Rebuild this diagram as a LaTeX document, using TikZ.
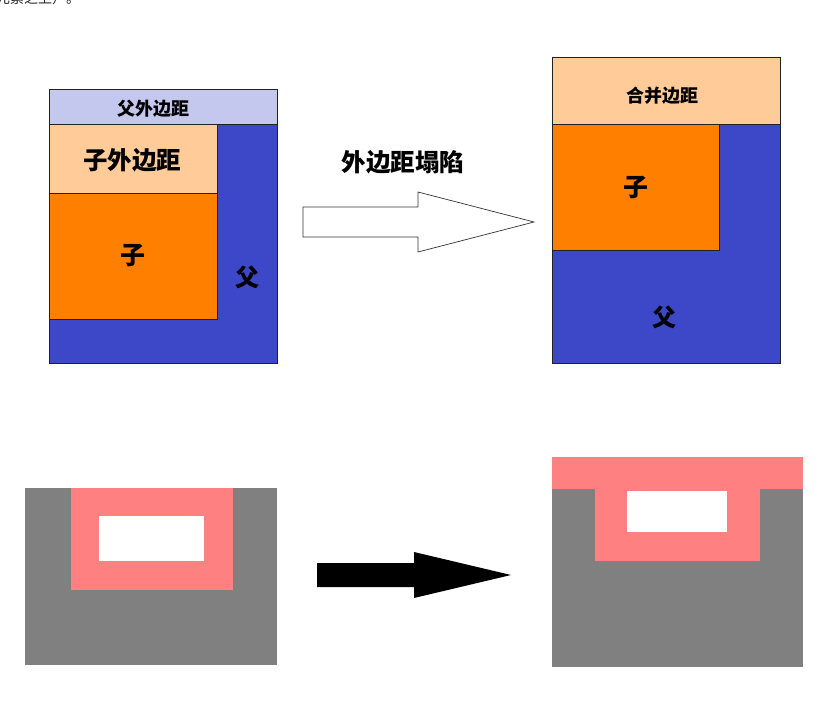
\documentclass[tikz,border=0pt]{standalone}
\usepackage{fontspec}
\newfontfamily\cjk{Noto Sans CJK SC}
\definecolor{pmargin}{HTML}{C5C8EE}
\definecolor{cmargin}{HTML}{FFCC99}
\definecolor{childc}{HTML}{FF8000}
\definecolor{parentc}{HTML}{3D48C9}
\definecolor{graybox}{HTML}{808080}
\definecolor{pinkbox}{HTML}{FF8080}
\definecolor{edge}{HTML}{222222}
\begin{document}
\begin{tikzpicture}[x=1pt,y=-1pt,
  boxe/.style={draw=edge,line width=0.8pt},
  lbl/.style={font=\cjk\bfseries\fontsize{#1}{#1}\selectfont,inner sep=0pt,text=black},
  flat/.style={draw=none}]
\useasboundingbox (0,0) rectangle (835,715);
% clipped top text
\node[anchor=base west,inner sep=0pt,font=\cjk\fontsize{14}{14}\selectfont,text=black!85] (toptext) at (-4,3) {元素之上）。};
% ---------- top left ----------
\path[fill=parentc,boxe] (49,124) rectangle (277,363);
\node[fill=pmargin,boxe,minimum width=228pt,minimum height=35pt,inner sep=0pt,anchor=north west] (pm) at (49,89) {};
\node[lbl=18] (pmlabel) at (153,109) {父外边距};
\node[fill=cmargin,boxe,minimum width=168pt,minimum height=69pt,inner sep=0pt,anchor=north west] (cm) at (49,124) {};
\node[lbl=24.5] (cmlabel) at (132,160) {子外边距};
\node[fill=childc,boxe,minimum width=168pt,minimum height=126pt,inner sep=0pt,anchor=north west] (child1) at (49,193) {};
\node[lbl=25] (c1label) at (133,256) {子};
\node[lbl=24] (p1label) at (247,277) {父};
% ---------- hollow arrow ----------
\draw[draw=black!80,fill=white,line width=0.7pt] (303,207) -- (418,207) -- (418,192) -- (534,222) -- (418,252) -- (418,237) -- (303,237) -- cycle;
\node[lbl=24.5] (collapse) at (403,162) {外边距塌陷};
% ---------- top right ----------
\path[fill=parentc,boxe] (552,124) rectangle (780,363);
\node[fill=cmargin,boxe,minimum width=228pt,minimum height=67pt,inner sep=0pt,anchor=north west] (merged) at (552,57) {};
\node[lbl=18] (mlabel) at (662,96) {合并边距};
\node[fill=childc,boxe,minimum width=167pt,minimum height=126pt,inner sep=0pt,anchor=north west] (child2) at (552,124) {};
\node[lbl=25] (c2label) at (636,188) {子};
\node[lbl=24] (p2label) at (664,317) {父};
% ---------- bottom left ----------
\fill[graybox] (25,488) rectangle (277,665);
\fill[pinkbox] (71,488) rectangle (233,590);
\fill[white] (99,516) rectangle (204,561);
% ---------- black arrow ----------
\fill[black] (317,563) -- (414,563) -- (414,552) -- (511,575) -- (414,598) -- (414,587) -- (317,587) -- cycle;
% ---------- bottom right ----------
\fill[graybox] (552,489) rectangle (803,667);
\fill[pinkbox] (552,457) rectangle (803,489);
\fill[pinkbox] (595,489) rectangle (760,561);
\fill[white] (627,491) rectangle (727,532);
\end{tikzpicture}
\end{document}
